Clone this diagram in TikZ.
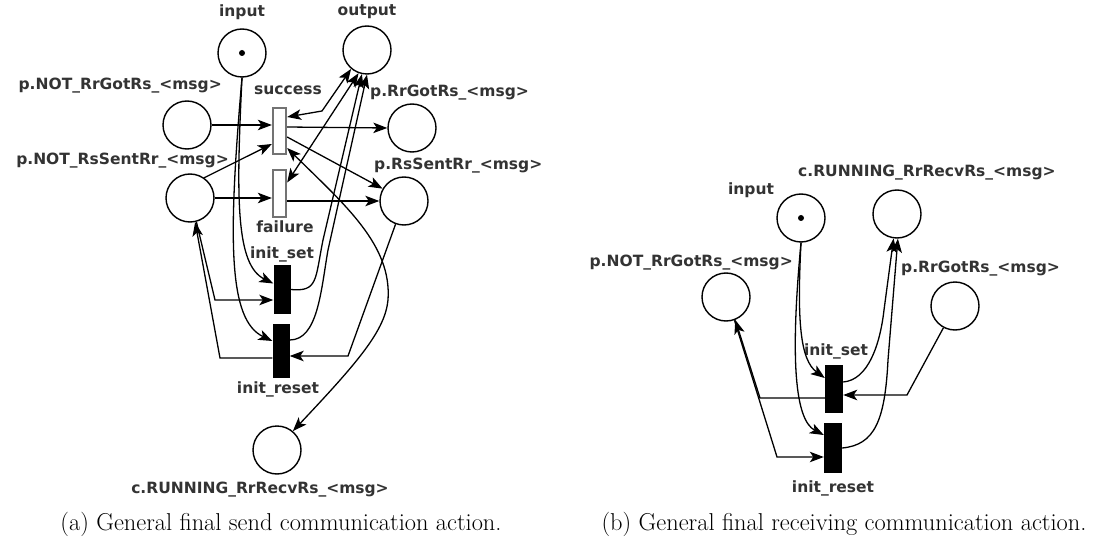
\documentclass[tikz,border=0pt]{standalone}
\usepackage{fontspec}
\newfontfamily\netfont{DejaVu Sans}
\usetikzlibrary{arrows.meta}
\tikzset{
  place/.style={circle, draw, line width=1.4pt, minimum size=48pt, inner sep=0pt},
  tok/.style={circle, fill, inner sep=0pt, minimum size=6pt},
  itrans/.style={rectangle, draw=black!55, fill=white, line width=1.8pt,
    minimum width=13.5pt, minimum height=46.5pt, inner sep=0pt},
  btrans/.style={rectangle, fill=black, minimum width=17pt, minimum height=49pt, inner sep=0pt},
  lbl/.style={font=\netfont\bfseries\fontsize{15.5}{18}\selectfont, text=black!80, inner sep=0pt},
  figcap/.style={font=\fontsize{24.4}{28}\selectfont, inner sep=0pt, anchor=base},
  tip/.tip={Stealth[length=14pt,width=10.5pt,inset=3.5pt]},
  arc/.style={line width=1.3pt, -tip},
  biarc/.style={line width=1.3pt, tip-tip},
}
\begin{document}
\begin{tikzpicture}[x=1pt,y=-1pt]
\useasboundingbox (0,0) rectangle (1116,540);

% ---------------- (a) send action ----------------
\node[place] (inA)  at (242,53)  {};
\node[tok]   (tokA) at (242,53)  {};
\node[place] (outA) at (367,50)  {};
\node[place] (nrg)  at (187,125) {};
\node[place] (rg)   at (412,128) {};
\node[place] (nss)  at (190,198) {};
\node[place] (ss)   at (404,201) {};
\node[place] (runA) at (277,450) {};
\node[itrans] (succ) at (279.5,131)   {};
\node[itrans] (fail) at (279.5,193.5) {};
\node[btrans] (iset)   at (282,289.5) {};
\node[btrans, minimum height=54pt] (ireset) at (281,351) {};

\node[lbl, anchor=base] (linA)  at (242,17) {input};
\node[lbl, anchor=base] (loutA) at (367,16) {output};
\node[lbl, anchor=base east] (lnrg) at (222,90) {p.NOT\_RrGotRs\_<msg>};
\node[lbl, anchor=base east] (lnss) at (229,165) {p.NOT\_RsSentRr\_<msg>};
\node[lbl, anchor=base west] (lrg) at (370,97) {p.RrGotRs\_<msg>};
\node[lbl, anchor=base west] (lss) at (374,170) {p.RsSentRr\_<msg>};
\node[lbl, anchor=base] (lsucc) at (288,95) {success};
\node[lbl, anchor=base] (lfail) at (285,233) {failure};
\node[lbl, anchor=base] (liset) at (282,258) {init\_set};
\node[lbl, anchor=base] (lireset) at (278,393) {init\_reset};
\node[lbl, anchor=base] (lrunA) at (260,493) {c.RUNNING\_RrRecvRs\_<msg>};

% arcs into and out of success / failure
\draw[arc] (nrg.east) -- (nrg.east -| succ.west);
\draw[arc] (nss.55) -- ([yshift=-13pt]succ.west);
\draw[arc] (nss.east) -- (nss.east -| fail.west);
\draw[arc] ([yshift=4pt]succ.east) -- (rg.west);
\draw[arc] ([yshift=-6pt]succ.east) -- (ss.150);
\draw[arc] (ss.west -| fail.east) -- (ss.west);
\draw[biarc] ([yshift=14pt]succ.east) -- (322,111) -- (outA.230);
\draw[biarc] ([yshift=11pt]fail.east) -- (outA.250);
\draw[biarc] ([yshift=-17pt]succ.east) .. controls (345,205) and (392,245) .. (388,300)
   .. controls (385,330) and (360,360) .. (runA.50);

% initialisation arcs
\draw[arc] (inA.south) .. controls (236,200) and (236,265) .. ([yshift=6pt]iset.west);
\draw[arc] (inA.south) .. controls (228,240) and (228,320) .. ([yshift=10pt]ireset.west);
\draw[arc] (iset.east) .. controls (318,292) and (315,280) .. (323,240) -- (outA.258);
\draw[arc] ([yshift=11pt]ireset.east) .. controls (318,340) and (321,290) .. (328,250) -- (outA.270);
\draw[arc] (nss.-75) -- (215,300) -- ([yshift=-10.5pt]iset.west);
\draw[arc] ([yshift=-7pt]ireset.west) -- (220,358) -- (nss.-78);
\draw[arc] (ss.-110) -- (348,356) -- ([yshift=-5pt]ireset.east);

\node[figcap] (capA) at (281,530) {(a) General final send communication action.};

% ---------------- (b) receiving action ----------------
\node[place] (inB)  at (801,218) {};
\node[tok]   (tokB) at (801,218) {};
\node[place] (runB) at (897,214) {};
\node[place] (nrgB) at (726,297) {};
\node[place] (rgB)  at (955,306) {};
\node[btrans, minimum width=18pt, minimum height=48pt] (isetB) at (834,389) {};
\node[btrans, minimum width=18pt, minimum height=50pt] (iresetB) at (833,448) {};

\node[lbl, anchor=base] (linB) at (751,195) {input};
\node[lbl, anchor=base west] (lrunB) at (798,177) {c.RUNNING\_RrRecvRs\_<msg>};
\node[lbl, anchor=base east] (lnrgB) at (793,266) {p.NOT\_RrGotRs\_<msg>};
\node[lbl, anchor=base west] (lrgB) at (901,272) {p.RrGotRs\_<msg>};
\node[lbl, anchor=base] (lisetB) at (836,355) {init\_set};
\node[lbl, anchor=base] (liresetB) at (833,492) {init\_reset};

\draw[arc] (inB.south) .. controls (797,320) and (800,360) .. ([yshift=11pt]isetB.west);
\draw[arc] (inB.south) .. controls (790,360) and (795,420) .. ([yshift=13pt]iresetB.west);
\draw[arc] ([yshift=7pt]isetB.east) .. controls (868,380) and (880,345) .. (884,310) -- (runB.-98);
\draw[arc] (iresetB.east) .. controls (875,445) and (885,420) .. (888,360) -- (runB.-88);
\draw[arc] (rgB.-118) -- (907,395) -- ([yshift=-6pt]isetB.east);
\draw[arc] ([yshift=-9pt]isetB.west) -- (760,398) -- (nrgB.-68);
\draw[arc] (nrgB.-70) -- (777,457) -- ([yshift=-9pt]iresetB.west);

\node[figcap] (capB) at (844,530) {(b) General final receiving communication action.};
\end{tikzpicture}
\end{document}
